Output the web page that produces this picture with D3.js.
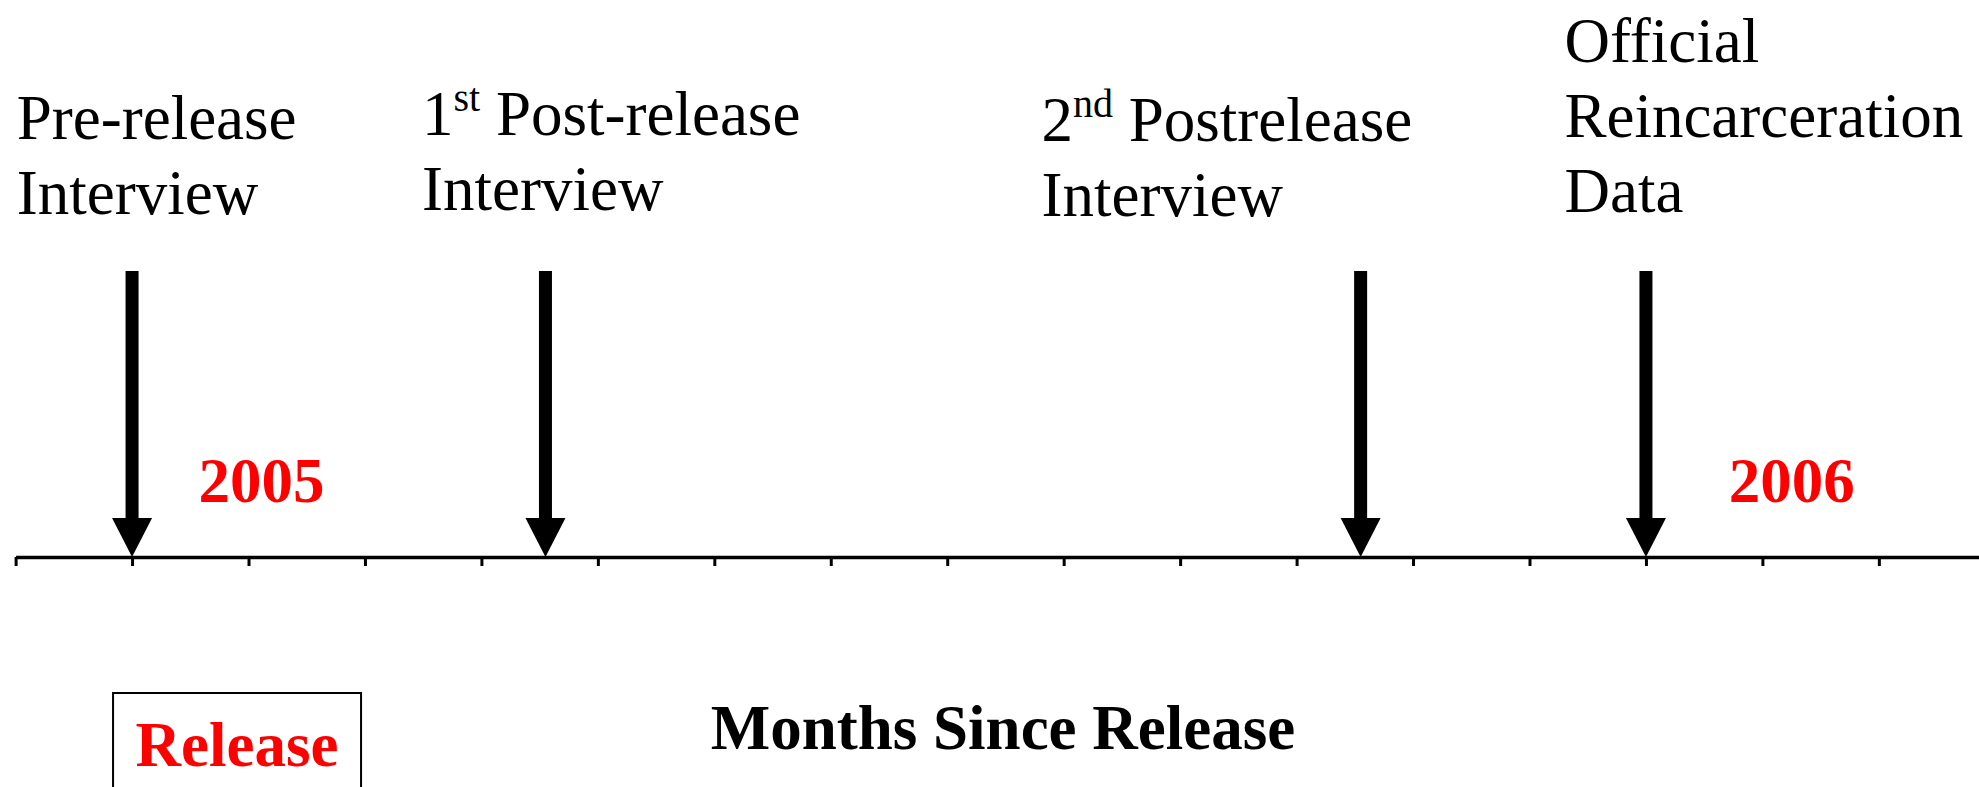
<!DOCTYPE html>
<html>
<head>
<meta charset="utf-8">
<script src="https://cdn.jsdelivr.net/npm/d3@7"></script>
<style>
  body { margin: 0; background: #fff; }
  text { font-family: "Liberation Serif", "Times New Roman", serif; }
</style>
</head>
<body>
<div id="chart"></div>
<script>
const width = 1979;
const height = 787;

// months since release (axis runs from -1 past 15)
const month_ticks = d3.range(-1, 16);
const event_months = [0, 3.55, 10.55, 13];
const event_labels = [
  [['Pre-release'], ['Interview']],
  [['1', 'st', ' Post-release'], ['Interview']],
  [['2', 'nd', ' Postrelease'], ['Interview']],
  [['Official'], ['Reincarceration'], ['Data']]
];
const label_months = [-0.99, 2.49, 7.81, 12.3];
const label_baselines = [139, 135, 141, 62];
const year_labels = ['2005', '2006'];
const year_months = [0.57, 13.71];
const release_month = 0;
const axis_title = 'Months Since Release';

const axis_y = 557;
const line_gap = 75;

const x_scale = d3.scaleLinear()
  .domain([-1, 15.86])
  .range([15.6, width]);

const svg = d3.select('#chart')
  .append('svg')
    .attr('width', width)
    .attr('height', height);

// axis with small downward ticks
const axis = svg.append('g')
  .attr('transform', 'translate(0,' + axis_y + ')')
  .call(d3.axisBottom(x_scale)
    .tickValues(month_ticks)
    .tickSize(9)
    .tickSizeOuter(0)
    .tickFormat(''));
axis.select('.domain').attr('stroke', '#000').attr('stroke-width', 3.5);
axis.selectAll('.tick line').attr('stroke', '#000').attr('stroke-width', 3);

// arrows
const arrows = svg.selectAll('g.arrow')
    .data(event_months)
  .join('g')
    .attr('class', 'arrow')
    .attr('transform', d => 'translate(' + x_scale(d) + ',0)');
arrows.append('rect')
  .attr('x', -6.5)
  .attr('y', 271)
  .attr('width', 13)
  .attr('height', 518 - 271 + 1)
  .attr('fill', '#000');
arrows.append('path')
  .attr('d', 'M-20,518 L20,518 L0,' + axis_y + ' Z')
  .attr('fill', '#000');

// event labels
event_labels.forEach((lines, i) => {
  const t = svg.append('text')
    .attr('x', x_scale(label_months[i]))
    .attr('y', label_baselines[i])
    .attr('font-size', 63)
    .attr('fill', '#000');
  lines.forEach((parts, j) => {
    t.append('tspan')
      .attr('x', x_scale(label_months[i]))
      .attr('y', label_baselines[i] + j * line_gap)
      .text(parts[0]);
    if (parts.length > 1) {
      t.append('tspan')
        .attr('font-size', 40)
        .attr('dy', -24)
        .text(parts[1]);
      t.append('tspan')
        .attr('dy', 24)
        .text(parts[2]);
    }
  });
});

// year labels
svg.selectAll('text.year')
    .data(year_labels)
  .join('text')
    .attr('class', 'year')
    .attr('x', (d, i) => x_scale(year_months[i]))
    .attr('y', 502)
    .attr('font-size', 63)
    .attr('font-weight', 'bold')
    .attr('fill', '#ff0000')
    .text(d => d);

// release box
const rx = x_scale(release_month) + 105;
svg.append('rect')
  .attr('x', rx - 124)
  .attr('y', 693)
  .attr('width', 248)
  .attr('height', 140)
  .attr('fill', 'none')
  .attr('stroke', '#000')
  .attr('stroke-width', 2);
svg.append('text')
  .attr('x', rx)
  .attr('y', 766)
  .attr('text-anchor', 'middle')
  .attr('font-size', 63)
  .attr('font-weight', 'bold')
  .attr('fill', '#ff0000')
  .text('Release');

// axis title
svg.append('text')
  .attr('x', 1003)
  .attr('y', 749)
  .attr('text-anchor', 'middle')
  .attr('font-size', 63)
  .attr('font-weight', 'bold')
  .attr('fill', '#000')
  .text(axis_title);
</script>
</body>
</html>
